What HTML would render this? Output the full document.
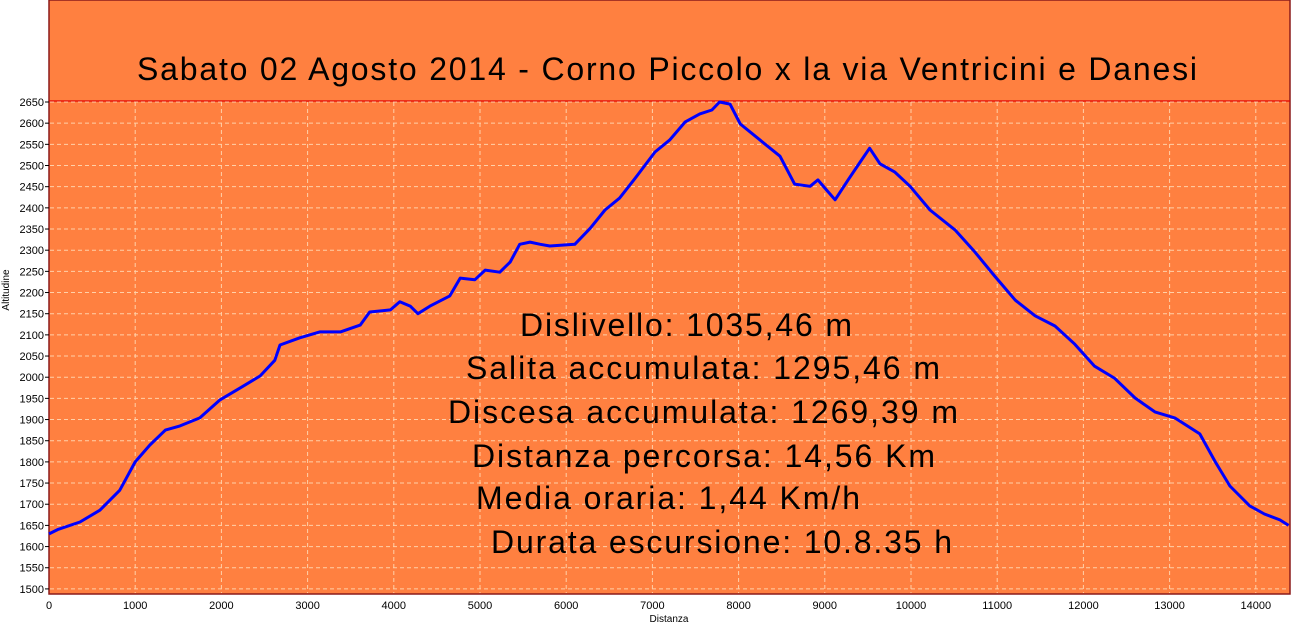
<!DOCTYPE html>
<html><head><meta charset="utf-8"><style>
html,body{margin:0;padding:0;background:#fff;width:1291px;height:627px;overflow:hidden}
svg{display:block;font-family:"Liberation Sans",Arial,sans-serif}
</style></head><body>
<svg id="chart" width="1291" height="627">
<rect x="49" y="0" width="1241" height="594" fill="#ff8040" stroke="#8b1a1a" stroke-width="1.5"/>
<text x="667" y="80" font-size="32" text-anchor="middle" textLength="1060">Sabato 02 Agosto 2014 - Corno Piccolo x la via Ventricini e Danesi</text>
<line x1="49" y1="101" x2="1290" y2="101" stroke="#e00000" stroke-width="1.2"/>
<g id="grid"></g>
<g id="yaxis"></g>
<g id="xaxis"></g>
<path id="profile" fill="none" stroke="#0000ff" stroke-width="3" stroke-linejoin="round"/>
<text x="669" y="622" font-size="10" text-anchor="middle">Distanza</text>
<text transform="translate(9,290) rotate(-90)" font-size="10" text-anchor="middle">Altitudine</text>
<g font-size="32">
<text x="520" y="336" textLength="332">Dislivello: 1035,46 m</text>
<text x="466" y="379" textLength="474">Salita accumulata: 1295,46 m</text>
<text x="448" y="423" textLength="510">Discesa accumulata: 1269,39 m</text>
<text x="472" y="467" textLength="463">Distanza percorsa: 14,56 Km</text>
<text x="476" y="509" textLength="384">Media oraria: 1,44 Km/h</text>
<text x="491" y="553" textLength="461">Durata escursione: 10.8.35 h</text>
</g>
</svg>
<script>
const distances=[0,100,360,590,820,1000,1170,1350,1520,1750,1980,2220,2450,2620,2680,2910,3140,3380,3610,3720,3960,4070,4190,4280,4420,4650,4770,4940,5060,5230,5350,5460,5580,5700,5810,6100,6280,6450,6620,6800,7030,7200,7380,7550,7690,7780,7900,8020,8250,8480,8650,8830,8920,9000,9120,9270,9410,9520,9640,9810,9990,10220,10510,10740,10970,11210,11440,11670,11900,12130,12360,12600,12830,13060,13350,13530,13700,13930,14100,14280,14380];
const elevations=[1630,1640,1658,1686,1733,1800,1840,1875,1885,1904,1946,1975,2003,2040,2076,2093,2107,2107,2123,2154,2159,2178,2168,2150,2168,2192,2234,2230,2253,2248,2272,2314,2319,2314,2310,2314,2352,2395,2423,2470,2532,2560,2603,2622,2631,2650,2645,2598,2560,2522,2456,2451,2466,2447,2419,2466,2508,2541,2504,2485,2451,2395,2348,2296,2239,2182,2145,2121,2078,2026,1998,1951,1918,1904,1866,1800,1743,1696,1677,1663,1650];
const yTicks=[1500,1550,1600,1650,1700,1750,1800,1850,1900,1950,2000,2050,2100,2150,2200,2250,2300,2350,2400,2450,2500,2550,2600,2650];
const xTicks=[0,1000,2000,3000,4000,5000,6000,7000,8000,9000,10000,11000,12000,13000,14000];
const NS='http://www.w3.org/2000/svg';
const X=d=>49+d*0.0862;
const Y=e=>102+(2650-e)*0.4234;
const grid=document.getElementById('grid'),ya=document.getElementById('yaxis'),xa=document.getElementById('xaxis');
function mk(tag,attrs,parent){const el=document.createElementNS(NS,tag);for(const k in attrs)el.setAttribute(k,attrs[k]);parent.appendChild(el);return el;}
yTicks.forEach(v=>{
  const y=Y(v);
  const g=mk('line',{x1:50,x2:1289,y1:y,y2:y,stroke:'#ffd0a8','stroke-width':1,'stroke-dasharray':'4,3'},grid);
  
  
  const t=mk('line',{x1:45,x2:49,y1:y,y2:y,stroke:'#000','stroke-width':1},ya);
  
  
  const l=mk('text',{x:44,y:y+4,'font-size':11,'text-anchor':'end'},ya);
  l.textContent=v;
  
  
});
xTicks.forEach(v=>{
  const x=X(v);
  if(v>0){const g=mk('line',{x1:x,x2:x,y1:102,y2:593,stroke:'#ffd0a8','stroke-width':1,'stroke-dasharray':'4,3'},grid);
  
  }
  const l=mk('text',{x:x,y:609,'font-size':11,'text-anchor':'middle'},xa);
  l.textContent=v;
  
  
});
document.getElementById('profile').setAttribute('d',distances.map((d,i)=>(i?'L':'M')+X(d).toFixed(1)+','+Y(elevations[i]).toFixed(1)).join(' '));
</script>
</body></html>
